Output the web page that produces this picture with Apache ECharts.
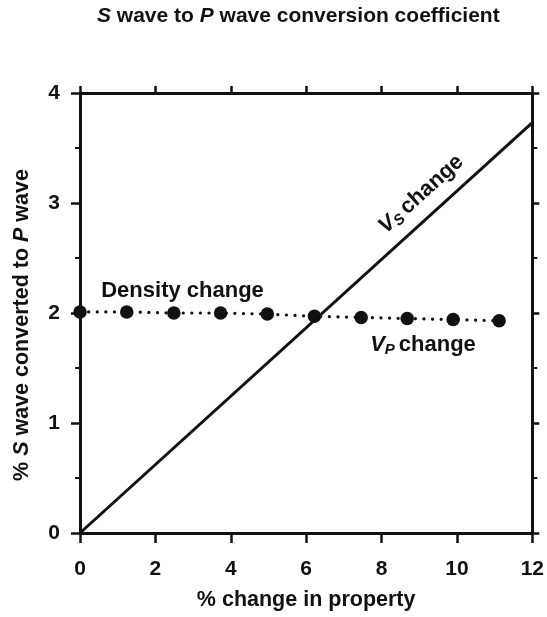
<!DOCTYPE html>
<html>
<head>
<meta charset="utf-8">
<style>
  html, body { margin: 0; padding: 0; background: #fff; }
  #chart { width: 547px; height: 617px; }
</style>
<script src="https://cdn.jsdelivr.net/npm/echarts@6/dist/echarts.min.js"></script>
</head>
<body>
<div id="chart"></div>
<script>
// Axis ranges and ticks
const xTicks = [0, 2, 4, 6, 8, 10, 12];
const yTicks = [0, 1, 2, 3, 4];

// S-wave velocity change: straight line through the origin
const vsX = [0, 12];
const vsY = [0, 3.73];

// Density / P-wave velocity change: nearly flat dotted curve with markers
const densX = [0, 1.24, 2.49, 3.73, 4.97, 6.22, 7.46, 8.68, 9.9, 11.12];
const densY = [2.01, 2.01, 2.0, 2.0, 1.99, 1.97, 1.96, 1.95, 1.94, 1.93];

const FONT = '"Liberation Sans", Arial, Helvetica, sans-serif';
const INK = '#111';

const chart = echarts.init(document.getElementById('chart'), null, { renderer: 'canvas' });

function axisLine() { return { show: true, onZero: false, lineStyle: { color: INK, width: 3 } }; }
function axisTick(len) { return { show: true, inside: false, length: len, lineStyle: { color: INK, width: 2.5 } }; }
function minorTick() { return { show: true, splitNumber: 2, length: 5, lineStyle: { color: INK, width: 2 } }; }
function tickLabel(margin) { return { show: true, margin: margin, color: INK, fontFamily: FONT, fontWeight: 'bold', fontSize: 21 }; }
function nameStyle(extra) { return Object.assign({ color: INK, fontFamily: FONT, fontWeight: 'bold', fontSize: 21.5 }, extra || {}); }

const option = {
  backgroundColor: '#fff',
  animation: false,
  title: {
    text: '{i|S} wave to {i|P} wave conversion coefficient',
    left: 92,
    top: 1,
    textStyle: {
      color: INK, fontFamily: FONT, fontWeight: 'bold', fontSize: 21,
      rich: {
        i: { color: INK, fontFamily: FONT, fontWeight: 'bold', fontStyle: 'italic', fontSize: 21 }
      }
    }
  },
  grid: { left: 80, right: 12, top: 93, bottom: 84, containLabel: false },
  xAxis: [
    {
      type: 'value', position: 'bottom',
      min: xTicks[0], max: xTicks[xTicks.length - 1], interval: 2,
      name: '% change in property',
      nameLocation: 'middle', nameGap: 56,
      nameTextStyle: nameStyle(),
      axisLine: axisLine(), axisTick: axisTick(10),
      axisLabel: tickLabel(26),
      splitLine: { show: false }
    },
    {
      type: 'value', position: 'top',
      min: xTicks[0], max: xTicks[xTicks.length - 1], interval: 2,
      axisLine: axisLine(), axisTick: axisTick(7),
      axisLabel: { show: false }, splitLine: { show: false }
    }
  ],
  yAxis: [
    {
      type: 'value', position: 'left',
      min: yTicks[0], max: yTicks[yTicks.length - 1], interval: 1,
      name: '% {i|S} wave converted to {i|P} wave',
      nameLocation: 'middle', nameGap: 47,
      nameTextStyle: nameStyle({
        padding: [0, 24, 0, 0],
        rich: { i: nameStyle({ fontStyle: 'italic' }) }
      }),
      axisLine: axisLine(), axisTick: axisTick(9),
      minorTick: minorTick(),
      axisLabel: tickLabel(20),
      splitLine: { show: false }, minorSplitLine: { show: false }
    },
    {
      type: 'value', position: 'right',
      min: yTicks[0], max: yTicks[yTicks.length - 1], interval: 1,
      axisLine: axisLine(), axisTick: axisTick(7),
      minorTick: minorTick(),
      axisLabel: { show: false }, splitLine: { show: false }, minorSplitLine: { show: false }
    }
  ],
  series: [
    {
      name: 'Density change',
      type: 'line',
      data: densX.map((x, i) => [x, densY[i]]),
      symbol: 'circle', symbolSize: 13.5,
      itemStyle: { color: INK },
      lineStyle: { color: INK, width: 3.2, type: [0.1, 8.5], cap: 'round' },
      z: 2
    },
    {
      name: 'Vs change',
      type: 'line',
      data: vsX.map((x, i) => [x, vsY[i]]),
      symbol: 'none',
      lineStyle: { color: INK, width: 3 },
      z: 3
    }
  ]
};

chart.setOption(option);

// Curve annotations, anchored in data coordinates
const annoFont = { fontFamily: FONT, fontWeight: 'bold', fontSize: 22, fill: INK };
function richText(text, rich) {
  return Object.assign({ text: text, rich: rich, align: 'center', verticalAlign: 'middle' }, annoFont);
}
const subRich = {
  v: { fontFamily: FONT, fontWeight: 'bold', fontStyle: 'italic', fontSize: 22, fill: INK },
  s: { fontFamily: FONT, fontWeight: 'bold', fontStyle: 'italic', fontSize: 15, fill: INK, padding: [10, 4, 0, 0] },
  t: { fontFamily: FONT, fontWeight: 'bold', fontSize: 22, fill: INK }
};

const pDensity = chart.convertToPixel({ xAxisIndex: 0, yAxisIndex: 0 }, [2.72, 2.2]);
const pVp = chart.convertToPixel({ xAxisIndex: 0, yAxisIndex: 0 }, [9.1, 1.71]);
const pVs = chart.convertToPixel({ xAxisIndex: 0, yAxisIndex: 0 }, [9.05, 3.08]);

chart.setOption({
  graphic: [
    { type: 'text', x: pDensity[0], y: pDensity[1], style: richText('Density change', {}) },
    { type: 'text', x: pVp[0], y: pVp[1], style: richText('{v|V}{s|P}{t|change}', subRich) },
    { type: 'text', x: pVs[0], y: pVs[1], rotation: 42 * Math.PI / 180, style: richText('{v|V}{s|S}{t|change}', subRich) }
  ]
});
</script>
</body>
</html>
